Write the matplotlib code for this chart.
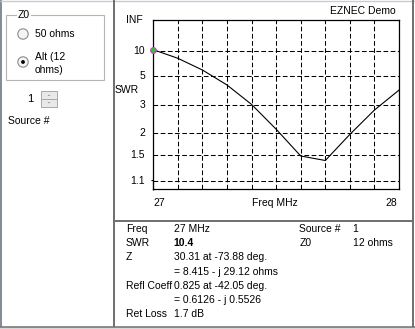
import numpy as np
import matplotlib
matplotlib.use("Agg")
import matplotlib.pyplot as plt
from matplotlib.patches import Rectangle, Circle, Polygon
from matplotlib.ticker import MultipleLocator

# ── data ─────────────────────────────────────────────────────────────────────
freq_mhz = [27.0, 27.1, 27.2, 27.3, 27.4, 27.5, 27.6, 27.7, 27.8, 27.9, 28.0]
swr      = [10.4, 7.84, 5.77, 4.21, 3.01, 2.10, 1.49, 1.41, 1.96, 2.76, 3.83]
swr_ticks = [10, 5, 3, 2, 1.5, 1.1]
swr_tick_labels = ["10", "5", "3", "2", "1.5", "1.1"]

info_rows = [
    ("Freq", "27 MHz"),
    ("SWR", "10.4"),
    ("Z", "30.31 at -73.88 deg."),
    ("", "= 8.415 - j 29.12 ohms"),
    ("Refl Coeff", "0.825 at -42.05 deg."),
    ("", "= 0.6126 - j 0.5526"),
    ("Ret Loss", "1.7 dB"),
]
info_right = [("Source #", "1"), ("Z0", "12 ohms")]


def rho(s):
    # EZNEC plots SWR on a reflection-coefficient scale
    s = np.asarray(s, dtype=float)
    return (s - 1) / (s + 1)


W, H = 415, 329
FONT = "Liberation Sans"
FS = 7.5
plt.rcParams["font.family"] = [FONT, "DejaVu Sans"]

fig = plt.figure(figsize=(W / 100, H / 100), dpi=100)
fig.patch.set_facecolor("white")

# background canvas in pixel coordinates (y down)
bg = fig.add_axes([0, 0, 1, 1])
bg.set_xlim(0, W)
bg.set_ylim(H, 0)
bg.axis("off")


def txt(x, y, s, **kw):
    kw.setdefault("fontsize", FS)
    kw.setdefault("va", "center")
    bg.text(x, y, s, **kw)


def hline(x0, x1, y, color, lw=1.0):
    bg.plot([x0, x1], [y, y], color=color, lw=lw, solid_capstyle="butt")


def vline(x, y0, y1, color, lw=1.0):
    bg.plot([x, x], [y0, y1], color=color, lw=lw, solid_capstyle="butt")


# ── window frame / panel borders ─────────────────────────────────────────────
bg.add_patch(Rectangle((0, 327), W, 2, facecolor="#d8d8d8", edgecolor="none"))
hline(0, W, 326.8, "#7a7a7a", 1.2)
vline(0.6, 0, 327, "#6b7886", 1.2)
hline(0, W, 0.5, "#c8ccd2", 1.0)
vline(114, 0, 327, "#6e6e6e", 1.4)
vline(413, 0, 327, "#6e6e6e", 1.4)
hline(114, 413, 221, "#6e6e6e", 1.4)

# ── left panel: Z0 group box ─────────────────────────────────────────────────
bg.add_patch(Rectangle((6, 15), 98, 65, facecolor="none", edgecolor="#b4b4b4", lw=0.8))
txt(18, 15, "Z0", bbox=dict(facecolor="white", edgecolor="none", pad=0.8))

for cy, sel in [(34, False), (62, True)]:
    bg.add_patch(Circle((23, cy), 5.2, facecolor="#f4f4f4", edgecolor="#8c8c8c", lw=0.8))
    if sel:
        bg.add_patch(Circle((23, cy), 1.9, facecolor="black", edgecolor="none"))
txt(35, 34, "50 ohms")
txt(35, 57, "Alt (12")
txt(35, 70, "ohms)")

# spinner
txt(30, 99, "1", ha="center", fontsize=8)
for y0 in (91, 99):
    bg.add_patch(Rectangle((41, y0), 16, 8, facecolor="#e9e9e9", edgecolor="#a8a8a8", lw=0.7))
bg.add_patch(Polygon([[47.5, 96], [50.5, 96], [49, 94.5]], closed=True,
                     facecolor="#9a9a9a", edgecolor="none"))
bg.add_patch(Polygon([[47.5, 102], [50.5, 102], [49, 103.5]], closed=True,
                     facecolor="#9a9a9a", edgecolor="none"))
txt(8, 121, "Source #")

# ── plot panel ───────────────────────────────────────────────────────────────
txt(396, 11, "EZNEC Demo", ha="right")
txt(143, 20, "INF", ha="right")
txt(127, 90, "SWR", ha="center")
for s, lab in zip(swr_ticks, swr_tick_labels):
    y = 189.3 - 169.3 * float(rho(s))
    txt(145, y, lab, ha="right")
# stray "1" label squeezed onto the axis line
vline(152.6, 179.5, 190, "black", 0.8)
hline(151.2, 152.6, 180.3, "black", 0.8)
txt(153, 203, "27", ha="left")
txt(397, 203, "28", ha="right")
txt(275, 203, "Freq MHz", ha="center")

ax_l, ax_r, ax_t, ax_b = 153.3, 399, 20, 189.3
ax = fig.add_axes([ax_l / W, 1 - ax_b / H, (ax_r - ax_l) / W, (ax_b - ax_t) / H])
ax.set_facecolor("none")
ax.set_xlim(27, 28)
ax.set_ylim(0, 1)
ax.xaxis.set_major_locator(MultipleLocator(0.1))
ax.set_yticks(rho(swr_ticks))
ax.tick_params(length=0, labelbottom=False, labelleft=False)
ax.grid(True, color="black", lw=0.75, linestyle=(0, (4.5, 2.4)))
for sp in ax.spines.values():
    sp.set_linewidth(0.9)

ax.plot(freq_mhz, rho(swr), color="black", lw=0.8)
ax.plot(freq_mhz[0], rho(swr[0]), marker="o", ms=4.2, mfc="#22cc22", mec="#ee22ee",
        mew=0.7, clip_on=False, zorder=5)

# ── data panel ───────────────────────────────────────────────────────────────
row_y = [229.3, 243.3, 257.5, 271.7, 286, 300, 314]
for y, (lab, val) in zip(row_y, info_rows):
    if lab:
        txt(126, y, lab)
    txt(173.5, y, val, fontweight="bold" if lab == "SWR" else "normal")
for y, (lab, val) in zip(row_y, info_right):
    txt(299.3, y, lab)
    txt(352.7, y, val)

fig.savefig("out.png", dpi=100)
